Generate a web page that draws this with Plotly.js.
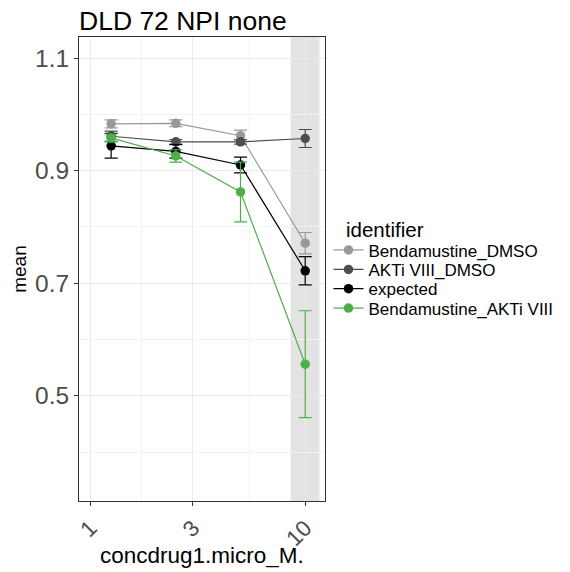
<!DOCTYPE html>
<html>
<head>
<meta charset="utf-8">
<script src="https://cdn.plot.ly/plotly-3.0.1.min.js"></script>
<style>html,body{margin:0;padding:0;background:#fff;}#chart{width:570px;height:572px;}</style>
</head>
<body>
<div id="chart"></div>
<script>
const conc = [1.25, 2.5, 5, 10];
const seriesNames = ["Bendamustine_DMSO", "AKTi VIII_DMSO", "expected", "Bendamustine_AKTi VIII"];
const benDMSO = [0.983, 0.984, 0.962, 0.771];
const benDMSOErr = [0.007, 0.006, 0.010, 0.019];
const aktDMSO = [0.961, 0.951, 0.951, 0.957];
const aktDMSOErr = [0.009, 0.004, 0.004, 0.016];
const expected = [0.944, 0.934, 0.910, 0.722];
const expectedErr = [0.022, 0.012, 0.014, 0.025];
const benAKT = [0.958, 0.926, 0.862, 0.556];
const benAKTErr = [0.007, 0.011, 0.053, 0.095];
const colors = ["#999999", "#4d4d4d", "#000000", "#4daf4a"];
const xTicks = [1, 3, 10];
const yTicks = [0.5, 0.7, 0.9, 1.1];
const highlightRange = [8.55, 11.65];
const legendTitle = "identifier";
const xTitle = "concdrug1.micro_M.";

const ys = [benDMSO, aktDMSO, expected, benAKT];
const errs = [benDMSOErr, aktDMSOErr, expectedErr, benAKTErr];
const legendIds = ['legend', 'legend2', 'legend3', 'legend4'];
const traces = seriesNames.map((n, i) => ({
  type: 'scatter', mode: 'lines+markers', name: n, legend: legendIds[i],
  x: conc, y: ys[i],
  line: {color: colors[i], width: 1.2},
  marker: {color: colors[i], size: 9.5},
  error_y: {type: 'data', array: errs[i], visible: true, color: colors[i], thickness: 1.2, width: 6.5}
}));

// plot area geometry (pixels) used to place legend entries
const plotLeft = 78.7, plotRight = 325.5, plotTop = 37.3, plotBottom = 501;
const pw = plotRight - plotLeft, ph = plotBottom - plotTop;
const legendRowsPx = [250.5, 270, 289.3, 308.6];
const legendLeftPx = 329;

const layout = {
  width: 570, height: 572,
  margin: {l: plotLeft, r: 570 - plotRight, t: plotTop, b: 572 - plotBottom},
  paper_bgcolor: '#fff', plot_bgcolor: '#fff',
  font: {family: 'Liberation Sans, Arial, sans-serif', color: '#000'},
  title: {text: 'DLD 72 NPI none', x: 79 / 570, xanchor: 'left', y: 1 - 30 / 572, yanchor: 'bottom',
          font: {size: 26.5, color: '#000'}},
  xaxis: {
    type: 'log', range: [Math.log10(0.886), Math.log10(12.36)],
    tickmode: 'array', tickvals: xTicks, ticktext: xTicks.map(String),
    tickangle: -45, tickfont: {size: 22.5, color: '#4d4d4d'},
    ticks: 'outside', ticklen: 4, tickcolor: '#333', tickwidth: 1,
    showgrid: true, gridcolor: '#ebebeb', gridwidth: 1,
    minor: {tickmode: 'array', tickvals: [Math.pow(10, 0.2386), Math.pow(10, 0.7386)], showgrid: true, gridcolor: '#f3f3f3', gridwidth: 1, ticks: ''},
    showline: true, linecolor: '#333', linewidth: 1, mirror: true, zeroline: false
  },
  yaxis: {
    range: [0.313, 1.1373],
    tickmode: 'array', tickvals: yTicks, ticktext: yTicks.map(v => v.toFixed(1)),
    tickfont: {size: 24.5, color: '#4d4d4d'},
    ticks: 'outside', ticklen: 4, tickcolor: '#333', tickwidth: 1,
    showgrid: true, gridcolor: '#ebebeb', gridwidth: 1,
    minor: {tickmode: 'array', tickvals: [0.4, 0.6, 0.8, 1.0], showgrid: true, gridcolor: '#f3f3f3', gridwidth: 1, ticks: ''},
    showline: true, linecolor: '#333', linewidth: 1, mirror: true, zeroline: false,
    title: {text: 'mean', font: {size: 19, color: '#000'}, standoff: 3}
  },
  shapes: [{type: 'rect', xref: 'x', yref: 'paper', x0: highlightRange[0], x1: highlightRange[1], y0: 0, y1: 1,
            fillcolor: 'rgba(0,0,0,0.11)', line: {width: 0}, layer: 'between'}],
  annotations: [
    {text: legendTitle, xref: 'paper', yref: 'paper', x: (345 - plotLeft) / pw, y: (plotBottom - 230) / ph,
     xanchor: 'left', yanchor: 'middle', showarrow: false, font: {size: 20.5, color: '#000'}},
    {text: xTitle, xref: 'paper', yref: 'paper', x: 0.5, y: (plotBottom - 555) / ph,
     xanchor: 'center', yanchor: 'middle', showarrow: false, font: {size: 22.5, color: '#000'}}
  ],
  showlegend: true
};
legendIds.forEach((id, i) => {
  layout[id] = {
    x: (legendLeftPx - plotLeft) / pw, xanchor: 'left',
    y: (plotBottom - legendRowsPx[i]) / ph, yanchor: 'middle',
    font: {size: 17, color: '#000'}, itemwidth: 30, bgcolor: 'rgba(0,0,0,0)', borderwidth: 0
  };
});
Plotly.newPlot('chart', traces, layout, {displayModeBar: false, staticPlot: true});
</script>
</body>
</html>
